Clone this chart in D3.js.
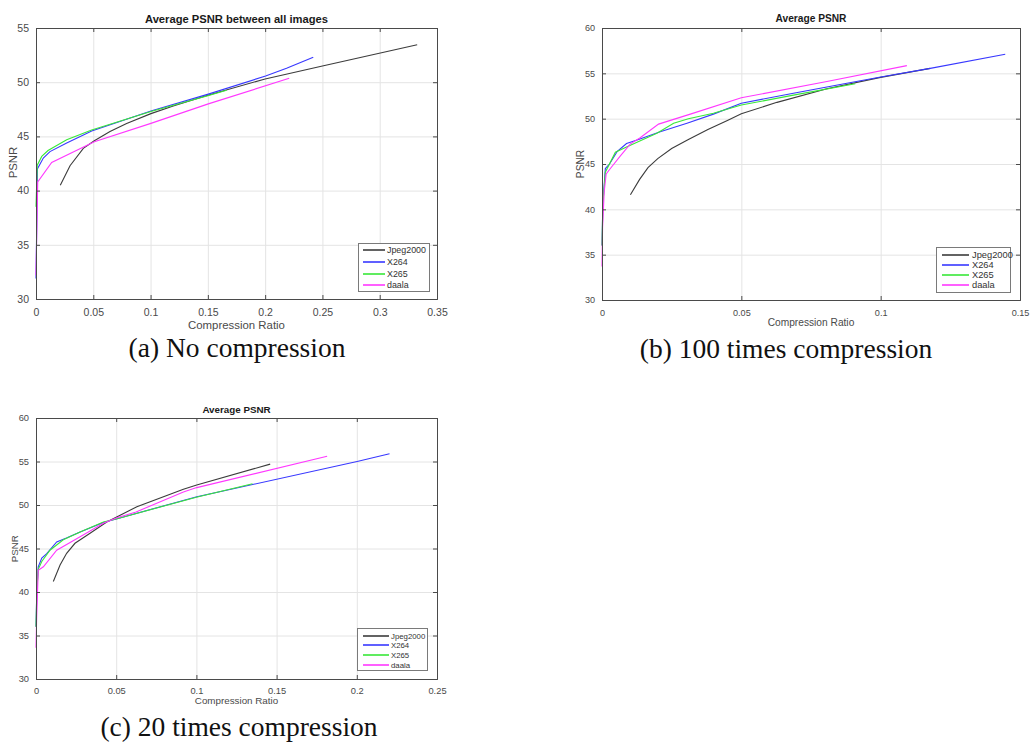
<!DOCTYPE html>
<html>
<head>
<meta charset="utf-8">
<script src="https://cdn.jsdelivr.net/npm/d3@7"></script>
<style>
  body { margin: 0; background: #fff; }
  svg { display: block; }
  .tick text { font-family: "Liberation Sans", Arial, sans-serif; fill: #4a4a4a; }
</style>
</head>
<body>
<div id="chart"></div>
<script>
// series names and colours (MATLAB k / b / g / m)
const codecs = ["Jpeg2000", "X264", "X265", "daala"];
const codecColors = ["#3c3c3c", "#3838ff", "#38e838", "#ff38ff"];

// (a) No compression — [compression ratio, PSNR]
const noneJpeg2000 = [[0.0212,40.5],[0.0297,42.3],[0.0413,43.9],[0.0509,44.6],[0.0646,45.45],[0.0791,46.2],[0.1003,47.1],[0.1198,47.8],[0.15,48.8],[0.2,50.3],[0.25,51.5],[0.3327,53.45]];
const noneX264 = [[0,31.9],[0.0008,38],[0.0012,42.0],[0.0064,43.0],[0.0122,43.6],[0.0268,44.4],[0.0486,45.5],[0.1003,47.35],[0.1504,48.9],[0.2004,50.57],[0.2187,51.28],[0.242,52.3]];
const noneX265 = [[0,38.5],[0.0011,42.35],[0.005,43.15],[0.0105,43.7],[0.0268,44.7],[0.0486,45.6],[0.1003,47.3],[0.15,48.75],[0.1664,49.25]];
const noneDaala = [[0,32.2],[0.0008,37],[0.0015,40.8],[0.0137,42.6],[0.0509,44.5],[0.1003,46.2],[0.1504,48.0],[0.221,50.36]];
const noneXTicks = [0, 0.05, 0.1, 0.15, 0.2, 0.25, 0.3, 0.35];
const noneYTicks = [30, 35, 40, 45, 50, 55];

// (b) 100 times compression
const x100Jpeg2000 = [[0.0102,41.6],[0.0135,43.3],[0.0165,44.6],[0.02,45.6],[0.025,46.7],[0.031,47.7],[0.038,48.8],[0.045,49.8],[0.05,50.55],[0.0628,51.8],[0.0807,53.3],[0.1,54.55],[0.1178,55.55]];
const x100X264 = [[0,36],[0.0003,40.5],[0.0012,44.5],[0.0027,45.0],[0.0055,46.4],[0.0088,47.25],[0.0126,47.65],[0.0209,48.55],[0.0305,49.5],[0.04,50.5],[0.05,51.7],[0.0687,52.8],[0.0879,53.9],[0.1,54.6],[0.1178,55.55],[0.1447,57.1]];
const x100X265 = [[0,36],[0.0003,40.5],[0.0012,44.1],[0.0048,46.3],[0.009,46.9],[0.0197,48.4],[0.0257,49.5],[0.031,50.0],[0.04,50.6],[0.05,51.5],[0.0687,52.6],[0.0909,53.85]];
const x100Daala = [[0,33.7],[0.0002,38],[0.0008,42],[0.0015,43.9],[0.003,44.5],[0.0066,45.9],[0.0101,47.2],[0.0137,47.9],[0.0203,49.4],[0.0317,50.5],[0.05,52.3],[0.0807,54.1],[0.1094,55.85]];
const x100XTicks = [0, 0.05, 0.1, 0.15];
const x100YTicks = [30, 35, 40, 45, 50, 55, 60];

// (c) 20 times compression
const x20Jpeg2000 = [[0.0108,41.2],[0.015,43.1],[0.0191,44.45],[0.0243,45.6],[0.0337,46.75],[0.0441,48.05],[0.05,48.6],[0.0629,49.8],[0.0919,51.8],[0.1002,52.3],[0.146,54.7]];
const x20X264 = [[0,36],[0.0005,40],[0.0014,42.9],[0.0036,43.9],[0.0067,44.4],[0.0129,45.75],[0.019,46.2],[0.0275,46.9],[0.042,48.0],[0.05,48.4],[0.1003,50.95],[0.135,52.35],[0.2002,55.0],[0.2204,55.9]];
const x20X265 = [[0,36],[0.0005,40],[0.0014,42.6],[0.0036,43.5],[0.0087,44.8],[0.017,46.0],[0.0275,46.9],[0.042,48.05],[0.05,48.4],[0.1,50.9],[0.135,52.45]];
const x20Daala = [[0,33.6],[0.0004,37],[0.0014,42.5],[0.0046,42.9],[0.0129,44.8],[0.0275,46.35],[0.042,47.9],[0.05,48.5],[0.0624,49.2],[0.0919,51.5],[0.1002,52.0],[0.1815,55.6]];
const x20XTicks = [0, 0.05, 0.1, 0.15, 0.2, 0.25];
const x20YTicks = [30, 35, 40, 45, 50, 55, 60];

const svg = d3.select("#chart").append("svg")
  .attr("width", 1030).attr("height", 747);

const sans = "'Liberation Sans', Arial, sans-serif";

function drawPanel(p) {
  const g = svg.append("g");
  const x = d3.scaleLinear().domain(d3.extent(p.xTicks)).range([p.left, p.right]);
  const y = d3.scaleLinear().domain(d3.extent(p.yTicks)).range([p.bottom, p.top]);
  const w = p.right - p.left, h = p.bottom - p.top;

  // grid
  g.append("g").attr("transform", `translate(0,${p.bottom})`)
    .call(d3.axisBottom(x).tickValues(p.xTicks.slice(1, -1)).tickSize(-h).tickFormat(""))
    .call(s => s.select(".domain").remove())
    .call(s => s.selectAll("line").attr("stroke", "#e4e4e4"));
  g.append("g").attr("transform", `translate(${p.left},0)`)
    .call(d3.axisLeft(y).tickValues(p.yTicks.slice(1, -1)).tickSize(-w).tickFormat(""))
    .call(s => s.select(".domain").remove())
    .call(s => s.selectAll("line").attr("stroke", "#e4e4e4"));

  // series
  const line = d3.line().x(d => x(d[0])).y(d => y(d[1]));
  p.series.forEach((s, i) => {
    g.append("path").datum(s)
      .attr("fill", "none")
      .attr("stroke", codecColors[i])
      .attr("stroke-width", 1.1)
      .attr("d", line);
  });

  // inward ticks on all four sides, labels on bottom/left
  const tk = 4;
  const frame = g.append("g").attr("class", "frame");
  frame.append("g").attr("transform", `translate(0,${p.bottom})`)
    .call(d3.axisBottom(x).tickValues(p.xTicks).tickSize(-tk).tickPadding(p.xPad + tk).tickFormat(d => d))
    .call(s => s.selectAll("text").attr("font-size", p.tickFont).attr("font-family", sans));
  frame.append("g").attr("transform", `translate(0,${p.top})`)
    .call(d3.axisTop(x).tickValues(p.xTicks).tickSize(-tk).tickFormat(""));
  frame.append("g").attr("transform", `translate(${p.left},0)`)
    .call(d3.axisLeft(y).tickValues(p.yTicks).tickSize(-tk).tickPadding(3 + tk).tickFormat(d => d))
    .call(s => s.selectAll("text").attr("font-size", p.tickFont).attr("font-family", sans));
  frame.append("g").attr("transform", `translate(${p.right},0)`)
    .call(d3.axisRight(y).tickValues(p.yTicks).tickSize(-tk).tickFormat(""));
  frame.selectAll(".domain, .tick line").attr("stroke", "#4a4a4a");

  // title and axis labels
  g.append("text")
    .attr("x", (p.left + p.right) / 2).attr("y", p.titleY)
    .attr("text-anchor", "middle")
    .attr("font-family", sans).attr("font-weight", "bold")
    .attr("font-size", p.titleFont).attr("fill", "#1a1a1a")
    .text(p.title);
  g.append("text")
    .attr("x", (p.left + p.right) / 2).attr("y", p.xLabelY)
    .attr("text-anchor", "middle")
    .attr("font-family", sans).attr("font-size", p.labelFont).attr("fill", "#4a4a4a")
    .text("Compression Ratio");
  g.append("text")
    .attr("transform", `translate(${p.yLabelX},${p.yLabelY}) rotate(-90)`)
    .attr("text-anchor", "middle").attr("dy", "0.35em")
    .attr("font-family", sans).attr("font-size", p.labelFont).attr("fill", "#4a4a4a")
    .text("PSNR");

  // legend
  const lg = p.legend;
  g.append("rect")
    .attr("x", lg.x).attr("y", lg.y).attr("width", lg.w).attr("height", lg.h)
    .attr("fill", "#fff").attr("stroke", "#7a7a7a");
  codecs.forEach((c, i) => {
    const yy = Math.round(lg.y + lg.first + i * lg.step);
    g.append("line")
      .attr("x1", lg.lineX[0]).attr("x2", lg.lineX[1])
      .attr("y1", yy).attr("y2", yy)
      .attr("stroke", codecColors[i]).attr("stroke-width", 1.6);
    g.append("text")
      .attr("x", lg.textX).attr("y", yy).attr("dy", "0.35em")
      .attr("font-family", sans).attr("font-size", lg.font).attr("fill", "#333")
      .text(c);
  });

  // caption
  svg.append("text")
    .attr("x", p.capX).attr("y", p.capY)
    .attr("text-anchor", "middle")
    .attr("font-family", "'Liberation Serif', 'Times New Roman', serif")
    .attr("font-size", 27.5).attr("fill", "#111")
    .text(p.caption);
}

drawPanel({
  left: 36, right: 437, top: 28, bottom: 299,
  xTicks: noneXTicks, yTicks: noneYTicks,
  series: [noneJpeg2000, noneX264, noneX265, noneDaala],
  tickFont: 10.5, titleFont: 11.2, labelFont: 11.4, xPad: 5.5,
  title: "Average PSNR between all images", titleY: 23,
  xLabelY: 328.5, yLabelX: 13, yLabelY: 162.5,
  legend: { x: 358.5, y: 243.5, w: 71, h: 48, first: 6.8, step: 11.6, lineX: [363, 385], textX: 387, font: 8.9 },
  caption: "(a) No compression", capX: 237, capY: 357
});

drawPanel({
  left: 602, right: 1020, top: 28, bottom: 300,
  xTicks: x100XTicks, yTicks: x100YTicks,
  series: [x100Jpeg2000, x100X264, x100X265, x100Daala],
  tickFont: 9.1, titleFont: 10.2, labelFont: 10.2, xPad: 6,
  title: "Average PSNR", titleY: 22,
  xLabelY: 325.5, yLabelX: 580, yLabelY: 164,
  legend: { x: 936.5, y: 247.5, w: 74, h: 45, first: 7.5, step: 10.1, lineX: [942, 969], textX: 972, font: 9.3 },
  caption: "(b) 100 times compression", capX: 786, capY: 357.5
});

drawPanel({
  left: 36, right: 437, top: 418, bottom: 679,
  xTicks: x20XTicks, yTicks: x20YTicks,
  series: [x20Jpeg2000, x20X264, x20X265, x20Daala],
  tickFont: 9.3, titleFont: 9.8, labelFont: 9.8, xPad: 4.7,
  title: "Average PSNR", titleY: 412.5,
  xLabelY: 703.5, yLabelX: 15, yLabelY: 548.7,
  legend: { x: 357.5, y: 628.5, w: 70, h: 42, first: 7, step: 9.8, lineX: [363, 389], textX: 391, font: 7.8 },
  caption: "(c) 20 times compression", capX: 239, capY: 736
});
</script>
</body>
</html>
